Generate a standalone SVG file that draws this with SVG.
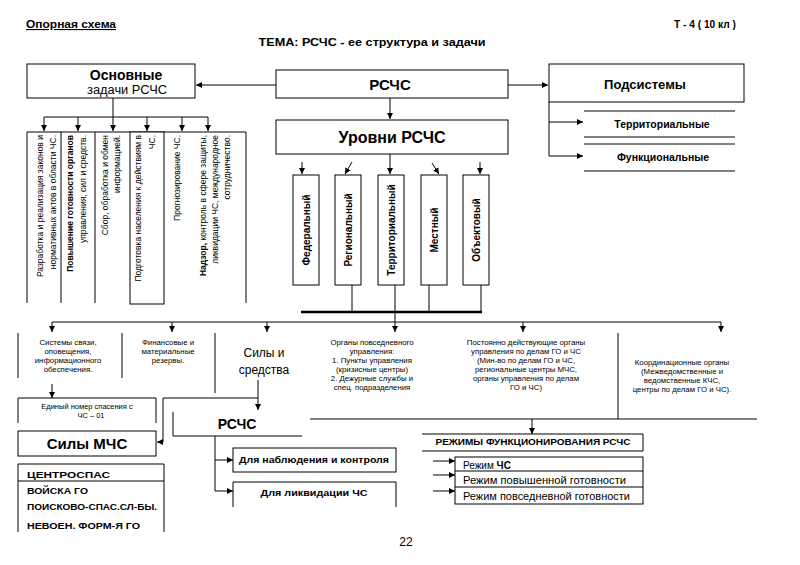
<svg xmlns="http://www.w3.org/2000/svg" width="800" height="565" viewBox="0 0 800 565">
<defs>
<marker id="ar" markerWidth="6" markerHeight="6" refX="6" refY="3" orient="auto" markerUnits="userSpaceOnUse">
<path d="M0,0 L6,3 L0,6 z" fill="#000"/>
</marker>
</defs>
<style>
text{font-family:"Liberation Sans",Arial,sans-serif;fill:#000}
.b{font-weight:bold}
.m{text-anchor:middle}
.e{text-anchor:end}
.s8{font-size:8.5px}
.s7{font-size:7.8px}
.ln{stroke:#000;stroke-width:1;fill:none}
.bx{stroke:#000;stroke-width:1;fill:#fff}
.a{stroke:#000;stroke-width:1;fill:none;marker-end:url(#ar)}
</style>
<rect width="800" height="565" fill="#fff"/>

<g id="header">
<text x="26" y="28" class="b" font-size="11" text-decoration="underline" textLength="90" lengthAdjust="spacingAndGlyphs">Опорная схема</text>
<text x="674" y="28" class="b" font-size="11" textLength="62" lengthAdjust="spacingAndGlyphs">Т - 4 ( 10 кл )</text>
<text x="372" y="46" class="b m" font-size="11" textLength="227" lengthAdjust="spacingAndGlyphs">ТЕМА: РСЧС - ее структура и задачи</text>
</g>

<g id="connectors">
<path class="a" d="M276,85 H196"/>
<path class="a" d="M508,85 H548"/>
<path class="a" d="M390,98 V119"/>
<path class="ln" d="M549,102 V156"/>
<path class="a" d="M549,122 H583"/>
<path class="a" d="M549,156 H583"/>
<path class="ln" d="M113,98 V117 M44,117 H208"/>
<path class="a" d="M44,117 V131"/>
<path class="a" d="M78,117 V131"/>
<path class="a" d="M113,117 V131"/>
<path class="a" d="M147,117 V131"/>
<path class="a" d="M182,117 V131"/>
<path class="a" d="M208,117 V131"/>
<path class="a" d="M302,162 V174"/>
<path class="a" d="M352,162 L345,174"/>
<path class="a" d="M390,154 V174"/>
<path class="a" d="M432,163 L439,174"/>
<path class="a" d="M480,162 V174"/>
<path class="ln" d="M352,285 V312 M395,285 V312 M429,285 V312 M481,285 V312"/>
<path stroke="#000" stroke-width="2.5" d="M301,312 H482"/>
<path class="ln" d="M52,322 H721"/>
<path class="a" d="M395,312 V332"/>
<path class="a" d="M52,322 V332"/>
<path class="a" d="M172,322 V332"/>
<path class="a" d="M267,322 V332"/>
<path class="a" d="M523,322 V332"/>
<path class="a" d="M721,322 V332"/>
<path class="ln" d="M18,333 V378 M122,333 V378 M215,333 V393 M618,333 V419 M310,419 H757"/>
<path class="a" d="M52,384 V398"/>
<path class="a" d="M258,380 V410"/>
<path class="a" d="M258,398 H163 V442 H157"/>
<path class="ln" d="M215,436 V491"/>
<path class="a" d="M215,460 H233"/>
<path class="a" d="M215,491 H233"/>
<path class="a" d="M532,419 V434"/>
<path class="a" d="M433,461 H455"/>
<path class="a" d="M433,475 H455"/>
<path class="a" d="M433,491 H455"/>
</g>

<g id="osnovnye">
<rect class="bx" x="27" y="64" width="168" height="34"/>
<text x="126" y="80" class="b m" font-size="14">Основные</text>
<text x="127" y="94" class="m" font-size="12" textLength="80" lengthAdjust="spacingAndGlyphs">задачи РСЧС</text>
</g>

<g id="rschs">
<rect class="bx" x="276" y="70" width="232" height="28"/>
<text x="390" y="90" class="b m" font-size="15">РСЧС</text>
</g>

<g id="podsistemy">
<rect class="bx" x="549" y="64" width="195" height="38"/>
<text x="645" y="89" class="b m" font-size="13">Подсистемы</text>
</g>

<g id="territorialnye">
<path class="ln" d="M584,111 H735 M584,137 H735"/>
<text x="662" y="128" class="b m" font-size="10.5">Территориальные</text>
</g>

<g id="funktsionalnye">
<path class="ln" d="M584,144 H735 M584,171 H735"/>
<text x="663" y="161" class="b m" font-size="10.5">Функциональные</text>
</g>

<g id="urovni">
<rect class="bx" x="276" y="120" width="232" height="34"/>
<text x="392" y="143" class="b m" font-size="16">Уровни РСЧС</text>
</g>

<g id="zadachi">
<path class="ln" d="M27,303 V132 H246 V303 M61,132 V303 M95,132 V303"/>
<rect class="bx" x="130" y="132" width="34" height="172"/>
<text class="e s8" transform="translate(43,135) rotate(-90)">Разработка и реализация законов и</text>
<text class="e s8" transform="translate(56,135) rotate(-90)">нормативных актов в области ЧС.</text>
<text class="e s8 b" transform="translate(73,135) rotate(-90)">Повышение готовности органов</text>
<text class="e s8" transform="translate(86,135) rotate(-90)">управления, сил и средств.</text>
<text class="e s8" transform="translate(108,135) rotate(-90)">Сбор, обработка и обмен</text>
<text class="e s8" transform="translate(120,135) rotate(-90)">информацией.</text>
<text class="e s8" transform="translate(141,135) rotate(-90)">Подготовка населения к действиям в</text>
<text class="e s8" transform="translate(155,135) rotate(-90)">ЧС.</text>
<text class="e s8" transform="translate(180,135) rotate(-90)">Прогнозирование ЧС.</text>
<text class="e s8" transform="translate(206,135) rotate(-90)"><tspan class="b">Надзор,</tspan> контроль в сфере защиты,</text>
<text class="e s8" transform="translate(218,135) rotate(-90)">ликвидации ЧС, международное</text>
<text class="e s8" transform="translate(230,135) rotate(-90)">сотрудничество.</text>
</g>

<g id="federalny">
<rect class="bx" x="293" y="175" width="26" height="110"/>
<text class="b m" font-size="10" transform="translate(309.5,230) rotate(-90)">Федеральный</text>
</g>
<g id="regionalny">
<rect class="bx" x="335" y="175" width="26" height="110"/>
<text class="b m" font-size="10" transform="translate(351.5,230) rotate(-90)">Региональный</text>
</g>
<g id="territorialny">
<rect class="bx" x="378" y="175" width="26" height="110"/>
<text class="b m" font-size="10" transform="translate(394.5,230) rotate(-90)">Территориальный</text>
</g>
<g id="mestny">
<rect class="bx" x="421" y="175" width="26" height="110"/>
<text class="b m" font-size="10" transform="translate(437.5,230) rotate(-90)">Местный</text>
</g>
<g id="obektovy">
<rect class="bx" x="463" y="175" width="26" height="110"/>
<text class="b m" font-size="10" transform="translate(479.5,230) rotate(-90)">Объектовый</text>
</g>

<g id="sistemy-svyazi">
<text class="m s7" x="68" y="345">Системы связи,</text>
<text class="m s7" x="68" y="354">оповещения,</text>
<text class="m s7" x="68" y="363">информационного</text>
<text class="m s7" x="68" y="372">обеспечения.</text>
</g>

<g id="finansovye">
<text class="m s7" x="168" y="345">Финансовые и</text>
<text class="m s7" x="168" y="354">материальные</text>
<text class="m s7" x="168" y="363">резервы.</text>
</g>

<g id="sily-sredstva">
<text class="m" font-size="12" x="264" y="357">Силы и</text>
<text class="m" font-size="12" x="264" y="374">средства</text>
</g>

<g id="organy-povsednevnogo">
<text class="m s7" x="372" y="345">Органы повседневного</text>
<text class="m s7" x="372" y="354">управления:</text>
<text class="m s7" x="372" y="363">1. Пункты управления</text>
<text class="m s7" x="372" y="372">(кризисные центры)</text>
<text class="m s7" x="372" y="381">2. Дежурные службы и</text>
<text class="m s7" x="372" y="390">спец. подразделения</text>
</g>

<g id="postoyanno">
<text class="m s7" x="526" y="345">Постоянно действующие органы</text>
<text class="m s7" x="526" y="354">управления по делам ГО и ЧС</text>
<text class="m s7" x="526" y="363">(Мин-во по делам ГО и ЧС,</text>
<text class="m s7" x="526" y="372">региональные центры МЧС,</text>
<text class="m s7" x="526" y="381">органы управления по делам</text>
<text class="m s7" x="526" y="390">ГО и ЧС)</text>
</g>

<g id="koordinatsionnye">
<text class="m s7" x="682" y="365">Координационные органы</text>
<text class="m s7" x="682" y="374">(Межведомственные и</text>
<text class="m s7" x="682" y="383">ведомственные КЧС,</text>
<text class="m s7" x="682" y="392">центры по делам ГО и ЧС).</text>
</g>

<g id="ediny-nomer">
<path class="ln" d="M18,423 V398 H156 V423"/>
<text class="m" font-size="7.5" x="87" y="409">Единый номер спасения с</text>
<text class="m" font-size="7.5" x="91" y="418">ЧС – 01</text>
</g>

<g id="sily-mchs">
<rect class="bx" x="18" y="431" width="138" height="25"/>
<text class="b m" font-size="15" x="87" y="449">Силы МЧС</text>
</g>

<g id="spisok">
<path class="ln" d="M18,532 V464 H164 V532 M18,481 H164"/>
<text class="b" font-size="9" x="27" y="478" textLength="83" lengthAdjust="spacingAndGlyphs">ЦЕНТРОСПАС</text>
<text class="b" font-size="9" x="27" y="494" textLength="61" lengthAdjust="spacingAndGlyphs">ВОЙСКА ГО</text>
<text class="b" font-size="9" x="27" y="510" textLength="130" lengthAdjust="spacingAndGlyphs">ПОИСКОВО-СПАС.СЛ-БЫ.</text>
<text class="b" font-size="9" x="27" y="529" textLength="113" lengthAdjust="spacingAndGlyphs">НЕВОЕН. ФОРМ-Я ГО</text>
</g>

<g id="rschs-nizh">
<path class="ln" d="M173,412 V436 H302"/>
<text class="b m" font-size="14" x="237" y="429">РСЧС</text>
</g>

<g id="nablyudenie">
<rect class="bx" x="233" y="448" width="163" height="24"/>
<text class="b m" font-size="9.5" x="314" y="463" textLength="150" lengthAdjust="spacingAndGlyphs">Для наблюдения и контроля</text>
</g>

<g id="likvidatsiya">
<path class="ln" d="M233,507 V482 H396 V507"/>
<text class="b m" font-size="9.5" x="314" y="496" textLength="107" lengthAdjust="spacingAndGlyphs">Для ликвидации ЧС</text>
</g>

<g id="rezhimy">
<path class="ln" d="M422,434 H643 V451 H422"/>
<text class="b m" font-size="8.5" x="533" y="445" textLength="195" lengthAdjust="spacingAndGlyphs">РЕЖИМЫ ФУНКЦИОНИРОВАНИЯ  РСЧС</text>
</g>

<g id="rezhim-list">
<rect class="bx" x="455" y="457" width="188" height="47"/>
<path class="ln" d="M455,471 H643 M455,487 H643"/>
<text font-size="10" x="463" y="469">Режим <tspan class="b">ЧС</tspan></text>
<text font-size="10" x="463" y="484" textLength="163" lengthAdjust="spacingAndGlyphs">Режим повышенной готовности</text>
<text font-size="10" x="463" y="500" textLength="167" lengthAdjust="spacingAndGlyphs">Режим повседневной готовности</text>
</g>

<g id="page">
<text class="m" font-size="12" x="406" y="546">22</text>
</g>
</svg>
